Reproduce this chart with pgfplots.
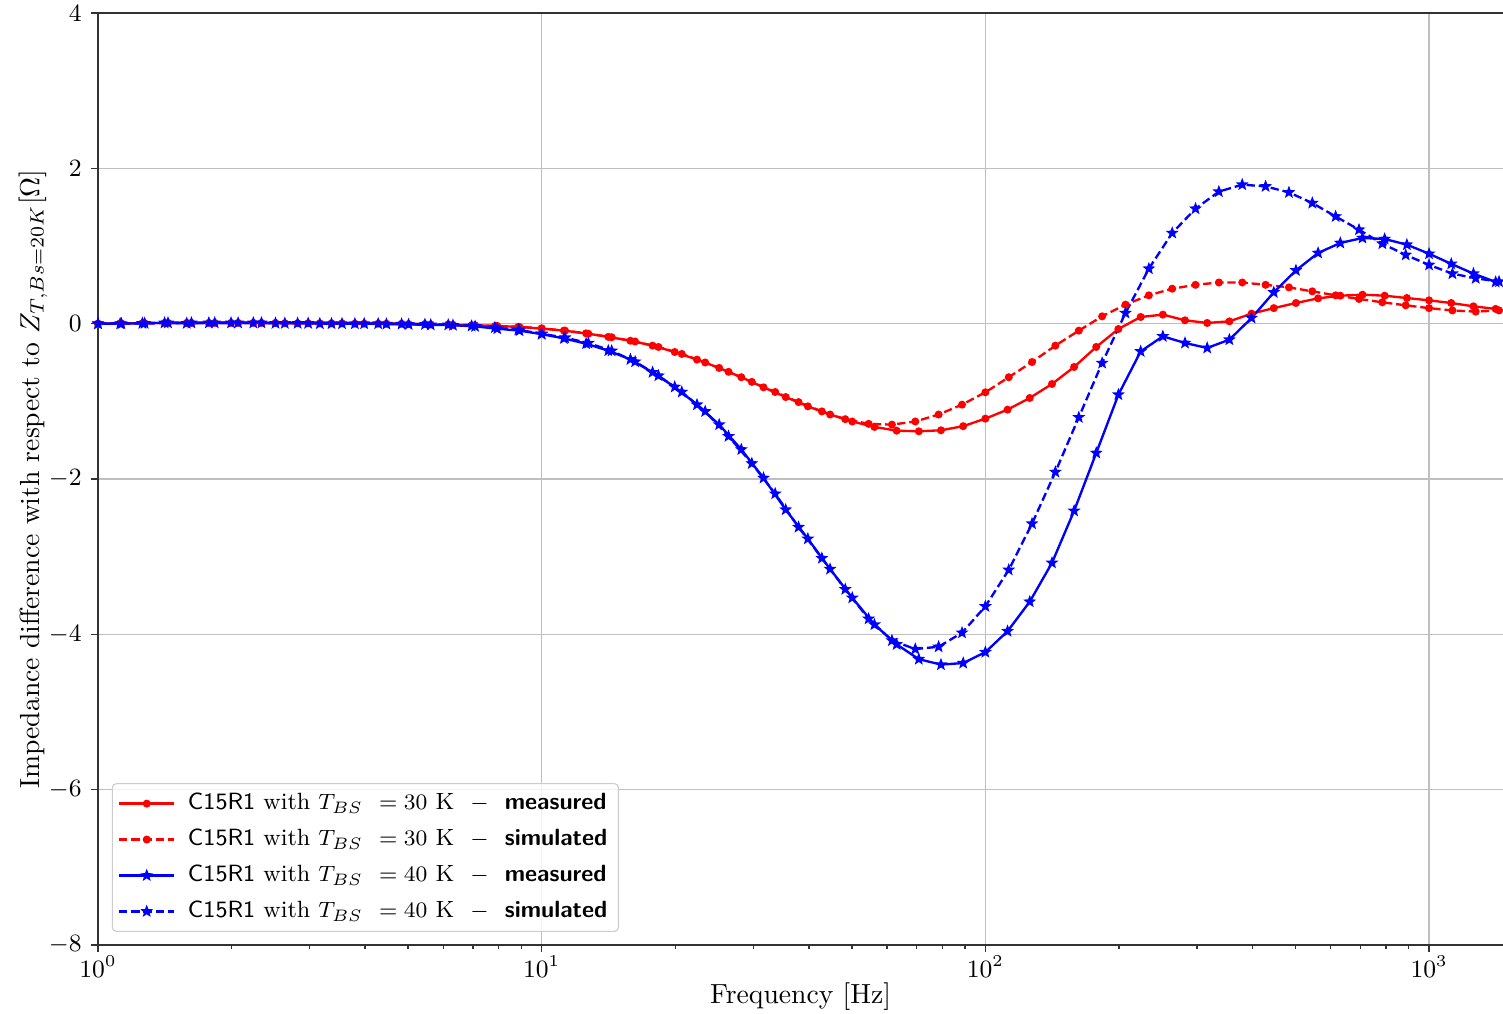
\documentclass[border=0pt]{standalone}
\usepackage{pgfplots}
\pgfplotsset{compat=1.18}
\pgfdeclareplotmark{fstar}{%
  \pgfpathmoveto{\pgfpointpolar{90}{\pgfplotmarksize}}%
  \pgfpathlineto{\pgfpointpolar{126}{0.42\pgfplotmarksize}}%
  \pgfpathlineto{\pgfpointpolar{162}{\pgfplotmarksize}}%
  \pgfpathlineto{\pgfpointpolar{198}{0.42\pgfplotmarksize}}%
  \pgfpathlineto{\pgfpointpolar{234}{\pgfplotmarksize}}%
  \pgfpathlineto{\pgfpointpolar{270}{0.42\pgfplotmarksize}}%
  \pgfpathlineto{\pgfpointpolar{306}{\pgfplotmarksize}}%
  \pgfpathlineto{\pgfpointpolar{342}{0.42\pgfplotmarksize}}%
  \pgfpathlineto{\pgfpointpolar{18}{\pgfplotmarksize}}%
  \pgfpathlineto{\pgfpointpolar{54}{0.42\pgfplotmarksize}}%
  \pgfpathclose
  \pgfusepathqfillstroke
}
\begin{document}
\begin{tikzpicture}
\begin{axis}[
  scale only axis,
  width=508.2pt, height=337.1pt,
  xmode=log, xmin=1, xmax=1468,
  ymin=-8, ymax=4, ytick={-8,-6,...,4},
  xtick={1,10,100,1000},
  axis lines=left,
  axis line style={-, black!80, line width=0.6pt},
  tick align=outside,
  major tick length=2.4pt, minor tick length=1.4pt,
  tick style={black!80, line width=0.5pt},
  grid=major,
  major grid style={line width=0.5pt, color=black!25},
  clip=false,
  tick label style={font=\fontsize{9}{10}\selectfont},
  xticklabel style={yshift=2pt},
  label style={font=\fontsize{10}{12}\selectfont},
  xlabel={Frequency [Hz]},
  xlabel style={at={(rel axis cs:0.5,0)}, anchor=center, yshift=-18.8pt},
  ylabel={Impedance difference with respect to $Z_{T,Bs=20K}[\Omega]$},
  ylabel style={at={([xshift=-23.5pt]rel axis cs:0,0.5)}, anchor=center},
  legend cell align=left,
  legend style={at={(rel axis cs:0,0)}, anchor=south west, xshift=5pt, yshift=4.7pt,
    draw=black!20, rounded corners=1.5pt, fill=white, fill opacity=0.8, text opacity=1,
    font=\fontsize{8.5}{10}\selectfont, row sep=1.5pt, inner xsep=2pt, inner ysep=1.5pt},
  legend image code/.code={\draw[mark repeat=2,mark phase=2,#1] plot coordinates {(0pt,0pt) (10pt,0pt) (20pt,0pt)}; \path (22.5pt,0pt);},
]
\coordinate (bl) at (rel axis cs:0,0);
\coordinate (tr) at (rel axis cs:1,1);
\draw[black!80, line width=0.6pt] (rel axis cs:0,1) -- (rel axis cs:1,1);

% red measured
\addplot[red, line width=0.85pt, mark=*, mark size=1.0pt, mark options={solid}] coordinates {
(1,0.0) (1.122,0.005) (1.259,0.005) (1.413,0.01) (1.585,0.01) (1.778,0.01) (1.995,0.01) (2.239,0.01) (2.512,0.01) (2.818,0.005)
(3.162,0.005) (3.548,0.005) (3.981,0.0) (4.467,0.0) (5.012,-0.005) (5.623,-0.01) (6.310,-0.015) (7.079,-0.02) (7.943,-0.03) (8.913,-0.043)
(10,-0.064) (11.22,-0.09) (12.59,-0.125) (14.13,-0.17) (15.85,-0.22) (17.78,-0.283) (19.95,-0.365) (22.39,-0.463) (25.12,-0.57) (28.18,-0.69)
(31.62,-0.82) (35.48,-0.945) (39.81,-1.065) (44.67,-1.17) (50.12,-1.26) (56.23,-1.33) (63.10,-1.378) (70.79,-1.386) (79.43,-1.373) (89.13,-1.32)
(100,-1.223) (112.2,-1.107) (125.9,-0.957) (141.3,-0.777) (158.5,-0.558) (177.8,-0.30) (199.5,-0.069) (223.9,0.086) (251.2,0.116) (281.8,0.043)
(316.2,0.009) (354.8,0.03) (398.1,0.129) (446.7,0.20) (501.2,0.266) (562.3,0.326) (631.0,0.36) (707.9,0.373) (794.3,0.36) (891.3,0.33)
(1000,0.30) (1122,0.266) (1259,0.223) (1413,0.19)
};
\addlegendentry{\textsf{C15R1} with $T_{BS}$ \ $=30$ K \ $-$ \ \textsf{\textbf{measured}}}

% red simulated
\addplot[red, line width=0.85pt, dash pattern=on 3pt off 1.4pt, mark=*, mark size=1.0pt, mark options={solid}] coordinates {
(1,0.0) (1.129,0.005) (1.274,0.005) (1.438,0.01) (1.624,0.01) (1.833,0.01) (2.069,0.01) (2.336,0.01) (2.637,0.005) (2.976,0.005)
(3.360,0.005) (3.793,0.0) (4.281,0.0) (4.833,0.0) (5.456,-0.005) (6.158,-0.01) (6.952,-0.02) (7.848,-0.03) (8.859,-0.04) (10,-0.06)
(11.29,-0.09) (12.74,-0.13) (14.38,-0.175) (16.24,-0.23) (18.33,-0.30) (20.69,-0.39) (23.36,-0.50) (26.37,-0.62) (29.76,-0.75) (33.60,-0.88)
(37.93,-1.01) (42.81,-1.13) (48.33,-1.23) (54.56,-1.29) (61.58,-1.30) (69.52,-1.26) (78.48,-1.17) (88.59,-1.043) (100,-0.884) (112.9,-0.69)
(127.4,-0.494) (143.8,-0.283) (162.4,-0.09) (183.3,0.094) (206.9,0.245) (233.6,0.365) (263.7,0.45) (297.6,0.50) (336.0,0.53) (379.3,0.53)
(428.1,0.50) (483.3,0.467) (545.6,0.416) (615.8,0.365) (695.2,0.318) (784.8,0.275) (885.9,0.236) (1000,0.20) (1129,0.17) (1274,0.155)
(1438,0.17)
};
\addlegendentry{\textsf{C15R1} with $T_{BS}$ \ $=30$ K \ $-$ \ \textsf{\textbf{simulated}}}

% blue measured
\addplot[blue, line width=0.85pt, mark=fstar, mark size=1.25pt, mark options={solid}] coordinates {
(1,0.0) (1.122,0.0) (1.259,0.005) (1.413,0.01) (1.585,0.005) (1.778,0.01) (1.995,0.01) (2.239,0.01) (2.512,0.005) (2.818,0.005)
(3.162,0.0) (3.548,0.0) (3.981,0.0) (4.467,-0.005) (5.012,-0.01) (5.623,-0.015) (6.310,-0.02) (7.079,-0.035) (7.943,-0.065) (8.913,-0.09)
(10,-0.135) (11.22,-0.19) (12.59,-0.258) (14.13,-0.348) (15.85,-0.46) (17.78,-0.627) (19.95,-0.815) (22.39,-1.043) (25.12,-1.30) (28.18,-1.62)
(31.62,-1.987) (35.48,-2.395) (39.81,-2.77) (44.67,-3.16) (50.12,-3.53) (56.23,-3.875) (63.10,-4.13) (70.79,-4.32) (79.43,-4.39) (89.13,-4.37)
(100,-4.23) (112.2,-3.96) (125.9,-3.58) (141.3,-3.08) (158.5,-2.41) (177.8,-1.665) (199.5,-0.914) (223.9,-0.357) (251.2,-0.163) (281.8,-0.249)
(316.2,-0.313) (354.8,-0.206) (398.1,0.073) (446.7,0.403) (501.2,0.686) (562.3,0.91) (631.0,1.039) (707.9,1.103) (794.3,1.09) (891.3,1.017)
(1000,0.90) (1122,0.77) (1259,0.644) (1413,0.537)
};
\addlegendentry{\textsf{C15R1} with $T_{BS}$ \ $=40$ K \ $-$ \ \textsf{\textbf{measured}}}

% blue simulated
\addplot[blue, line width=0.85pt, dash pattern=on 3pt off 1.4pt, mark=fstar, mark size=1.25pt, mark options={solid}] coordinates {
(1,0.0) (1.129,0.0) (1.274,0.005) (1.438,0.01) (1.624,0.01) (1.833,0.01) (2.069,0.01) (2.336,0.01) (2.637,0.005) (2.976,0.005)
(3.360,0.0) (3.793,0.0) (4.281,0.0) (4.833,-0.005) (5.456,-0.01) (6.158,-0.015) (6.952,-0.03) (7.848,-0.05) (8.859,-0.08) (10,-0.13)
(11.29,-0.18) (12.74,-0.25) (14.38,-0.35) (16.24,-0.49) (18.33,-0.67) (20.69,-0.88) (23.36,-1.13) (26.37,-1.45) (29.76,-1.80) (33.60,-2.19)
(37.93,-2.62) (42.81,-3.02) (48.33,-3.42) (54.56,-3.80) (61.58,-4.08) (69.52,-4.19) (78.48,-4.16) (88.59,-3.98) (100,-3.64) (112.9,-3.17)
(127.4,-2.575) (143.8,-1.91) (162.4,-1.206) (183.3,-0.507) (206.9,0.137) (233.6,0.708) (263.7,1.167) (297.6,1.48) (336.0,1.70) (379.3,1.79)
(428.1,1.767) (483.3,1.69) (545.6,1.553) (615.8,1.38) (695.2,1.21) (784.8,1.03) (885.9,0.885) (1000,0.756) (1129,0.644) (1274,0.584)
(1438,0.541)
};
\addlegendentry{\textsf{C15R1} with $T_{BS}$ \ $=40$ K \ $-$ \ \textsf{\textbf{simulated}}}
\end{axis}
\pgfresetboundingbox
\path[use as bounding box] ([xshift=-35.45pt,yshift=-24.96pt]bl) rectangle ([yshift=4.70pt]tr);
\end{tikzpicture}
\end{document}
